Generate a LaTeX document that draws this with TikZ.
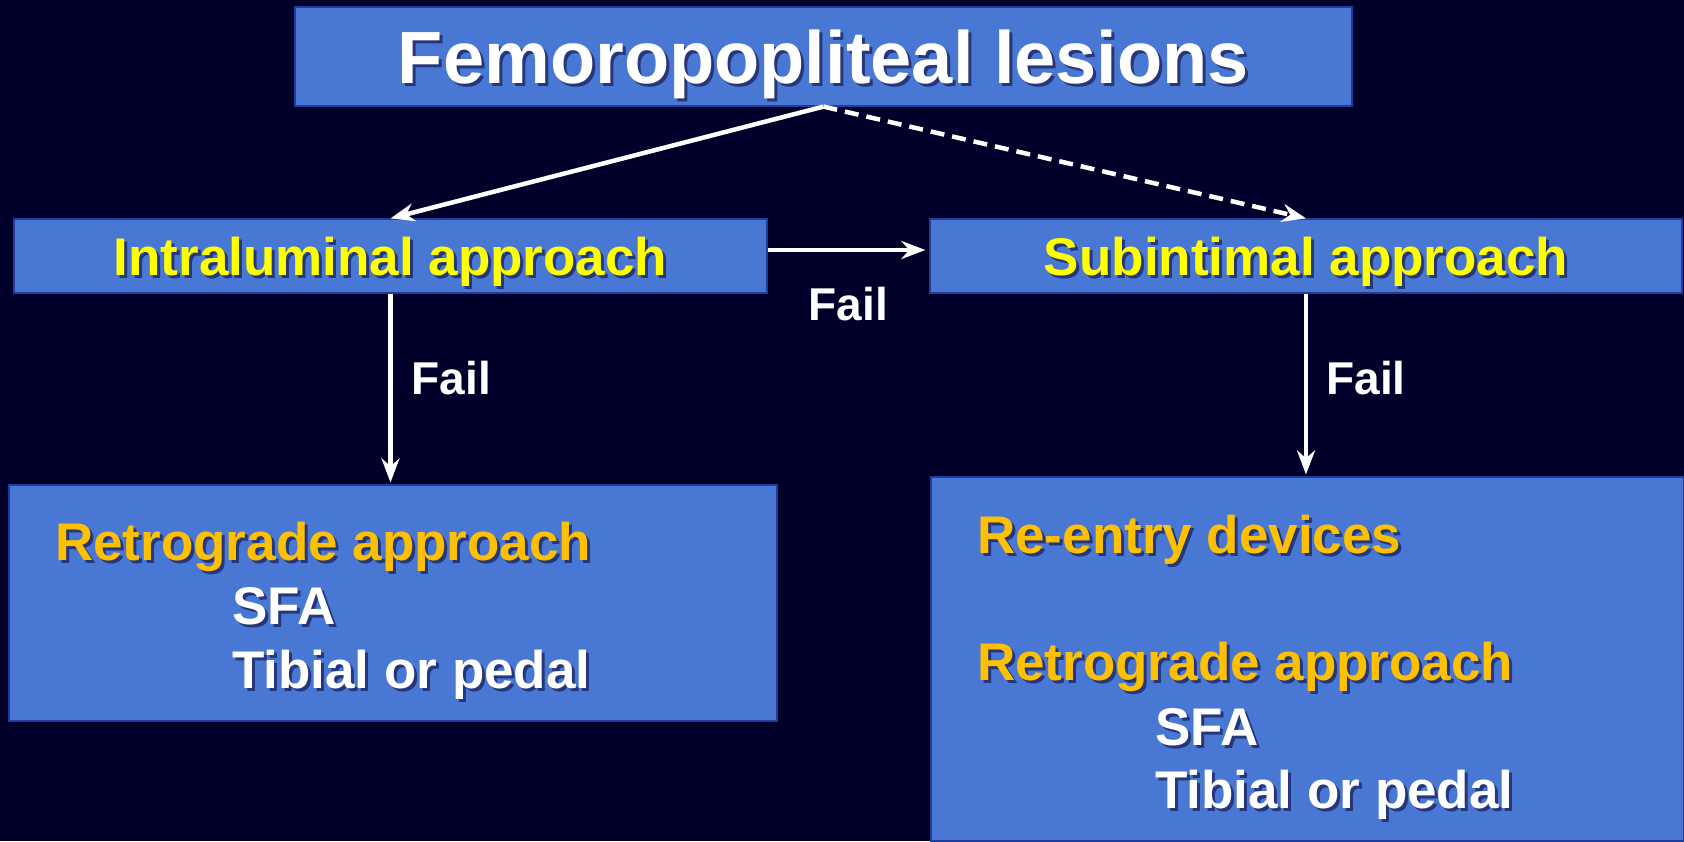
\documentclass[tikz,border=0pt]{standalone}
\usepackage{fontspec}
\setmainfont{Liberation Sans}
\usetikzlibrary{arrows.meta}

\definecolor{bg}{HTML}{00002B}
\definecolor{boxfill}{HTML}{4878D4}
\definecolor{boxedge}{HTML}{1F3C9A}
\definecolor{headyellow}{HTML}{FFFF00}
\definecolor{itemorange}{HTML}{FFC000}
\definecolor{txtshadow}{HTML}{26367A}

% text with a small drop shadow
\newcommand{\shtext}[1]{\makebox[0pt][l]{\hspace{3pt}\raisebox{-3pt}{\textcolor{txtshadow}{#1}}}#1}

\begin{document}
\begin{tikzpicture}[x=1pt, y=-1pt,
    box node/.style={rectangle, draw=boxedge, line width=1.2pt, fill=boxfill,
                     inner sep=0pt, text height=38pt, text depth=0pt,
                     font=\bfseries\fontsize{53}{60}\selectfont},
    line node/.style={anchor=base west, inner sep=0pt,
                      font=\bfseries\fontsize{53}{60}\selectfont},
    fail node/.style={text=white, font=\bfseries\fontsize{46}{52}\selectfont},
    link/.style={draw=white, line width=4.5pt, -{Stealth[length=24pt,width=18pt]}}]
    \useasboundingbox (0,0) rectangle (1684,841);
    \fill[bg] (0,0) rectangle (1684,841);

    % boxes
    \node[box node, minimum width=1057pt, minimum height=99pt, text=white,
          text height=53pt, font=\bfseries\fontsize{74}{80}\selectfont] (title) at (823.5,56.5)
          {\shtext{Femoropopliteal lesions}};
    \node[box node, minimum width=753pt, minimum height=74pt, text=headyellow]
          (intra) at (390.5,256) {\shtext{Intraluminal approach}};
    \node[box node, minimum width=752pt, minimum height=74pt, text=headyellow]
          (sub) at (1306,256) {\shtext{Subintimal approach}};
    \node[box node, minimum width=768pt, minimum height=236pt] (retro) at (393,603) {};
    \node[box node, minimum width=753pt, minimum height=364pt] (reentry) at (1307.5,659) {};

    % box contents
    \node[line node, text=itemorange] (retro1) at (55,560)  {\shtext{Retrograde approach}};
    \node[line node, text=white]      (retro2) at (232,624) {\shtext{SFA}};
    \node[line node, text=white]      (retro3) at (232,688) {\shtext{Tibial or pedal}};

    \node[line node, text=itemorange] (reentry1) at (977,553)  {\shtext{Re-entry devices}};
    \node[line node, text=itemorange] (reentry2) at (977,680)  {\shtext{Retrograde approach}};
    \node[line node, text=white]      (reentry3) at (1155,745) {\shtext{SFA}};
    \node[line node, text=white]      (reentry4) at (1155,808) {\shtext{Tibial or pedal}};

    % connectors
    \draw[link] (title.south) -- (intra.north);
    \draw[link, dash pattern=on 14pt off 8pt] (title.south) -- (sub.north);
    \draw[link, shorten >=4pt] ([yshift=6pt]intra.east) -- ([yshift=6pt]sub.west)
        node[fail node, midway, yshift=-54pt] (fail1) {Fail};
    \draw[link, shorten >=2pt] (intra.south) -- (intra.south |- retro.north)
        node[fail node, pos=0.44, xshift=61pt] (fail2) {Fail};
    \draw[link, shorten >=2pt] (sub.south) -- (sub.south |- reentry.north)
        node[fail node, pos=0.46, xshift=60pt] (fail3) {Fail};
\end{tikzpicture}
\end{document}
